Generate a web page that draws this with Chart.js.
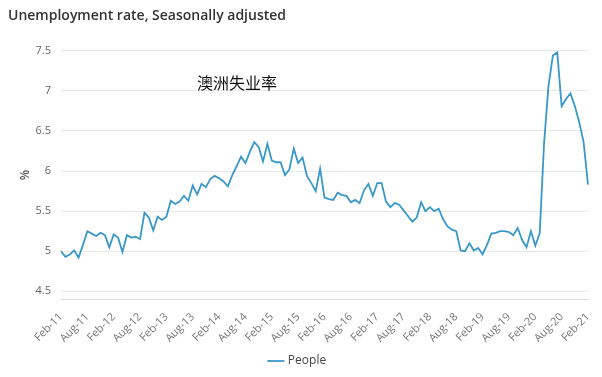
<!DOCTYPE html>
<html>
<head>
<meta charset="utf-8">
<script src="https://cdn.jsdelivr.net/npm/chart.js@4"></script>
<style>
body { margin: 0; background: #fff; }
#wrap { position: relative; width: 602px; height: 377px; }
#note { position: absolute; left: 197px; top: 73px; font-family: "Noto Sans CJK SC"; font-size: 16px; line-height: 18px; color: #111; }
</style>
</head>
<body>
<div id="wrap">
<canvas id="unemployment_chart" width="602" height="377"></canvas>
<div id="note">澳洲失业率</div>
</div>
<script>
const month_names = ["Jan", "Feb", "Mar", "Apr", "May", "Jun", "Jul", "Aug", "Sep", "Oct", "Nov", "Dec"];

// monthly, Feb-11 .. Feb-21
const month_labels = [];
for (let i = 0; i < 121; i++)
{
    month_labels.push(month_names[(1 + i) % 12] + "-" + (11 + Math.floor((1 + i) / 12)));
}

const people_values = [
    5.00, 4.93, 4.96, 5.01, 4.92, 5.08, 5.25, 5.22, 5.19, 5.23, 5.20, 5.05,
    5.21, 5.17, 4.99, 5.20, 5.17, 5.18, 5.15, 5.48, 5.42, 5.26, 5.43, 5.39,
    5.43, 5.63, 5.59, 5.62, 5.69, 5.63, 5.82, 5.71, 5.84, 5.80, 5.90, 5.94,
    5.91, 5.87, 5.81, 5.95, 6.06, 6.18, 6.10, 6.24, 6.36, 6.30, 6.12, 6.34,
    6.13, 6.11, 6.11, 5.95, 6.02, 6.28, 6.10, 6.17, 5.94, 5.85, 5.75, 6.03,
    5.67, 5.65, 5.64, 5.73, 5.70, 5.69, 5.61, 5.64, 5.60, 5.76, 5.84, 5.69,
    5.85, 5.85, 5.62, 5.55, 5.60, 5.58, 5.51, 5.44, 5.37, 5.42, 5.61, 5.50,
    5.55, 5.50, 5.53, 5.40, 5.31, 5.27, 5.25, 5.01, 5.00, 5.10, 5.01, 5.04,
    4.96, 5.08, 5.22, 5.23, 5.25, 5.25, 5.24, 5.20, 5.29, 5.14, 5.05, 5.25,
    5.07, 5.22, 6.35, 7.06, 7.44, 7.48, 6.81, 6.90, 6.97, 6.81, 6.61, 6.36,
    5.83
];

const y_tick_values = [4.5, 5, 5.5, 6, 6.5, 7, 7.5];

const unemployment_chart = new Chart("unemployment_chart",
{
    type: "line",
    data:
    {
        labels: month_labels,
        datasets:
        [
            {
                label: "People",
                data: people_values,
                fill: false,
                borderColor: "rgb(58, 152, 200)",
                backgroundColor: "rgb(58, 152, 200)",
                borderWidth: 1.8,
                pointRadius: 0,
                tension: 0
            }
        ]
    },
    options:
    {
        animation: false,
        responsive: false,
        layout:
        {
            padding: { left: 8, right: 14, top: 6, bottom: 0 }
        },
        plugins:
        {
            title:
            {
                display: true,
                align: "start",
                text: "Unemployment rate, Seasonally adjusted",
                color: "#333",
                font: { family: "Open Sans", size: 14, weight: "600" },
                padding: { top: 2, bottom: 26 }
            },
            legend:
            {
                position: "bottom",
                labels:
                {
                    usePointStyle: true,
                    pointStyle: "line",
                    boxWidth: 14,
                    color: "#444",
                    font: { family: "Open Sans", size: 12 },
                    padding: 7
                }
            },
            tooltip: { enabled: false }
        },
        scales:
        {
            x:
            {
                grid: { display: false },
                border: { display: true, color: "#dcdcdc" },
                ticks:
                {
                    autoSkip: false,
                    minRotation: 45,
                    maxRotation: 45,
                    color: "#777",
                    font: { family: "Open Sans", size: 11 },
                    callback: function (value, index)
                    {
                        return index % 6 === 0 ? this.getLabelForValue(value) : null;
                    }
                }
            },
            y:
            {
                min: 4.4,
                max: 7.5,
                afterBuildTicks: function (axis)
                {
                    axis.ticks = y_tick_values.map(v => ({ value: v }));
                },
                afterFit: function (axis)
                {
                    axis.width = 53;
                },
                title:
                {
                    display: true,
                    text: "%",
                    color: "#555",
                    font: { family: "Open Sans", size: 12, weight: "600" },
                    padding: { top: 10, bottom: 0 }
                },
                grid: { color: "#e8e8e8", drawTicks: false },
                border: { display: false },
                ticks:
                {
                    color: "#666",
                    padding: 10,
                    font: { family: "Open Sans", size: 11 },
                    callback: function (value)
                    {
                        return String(value);
                    }
                }
            }
        }
    }
});
</script>
</body>
</html>
